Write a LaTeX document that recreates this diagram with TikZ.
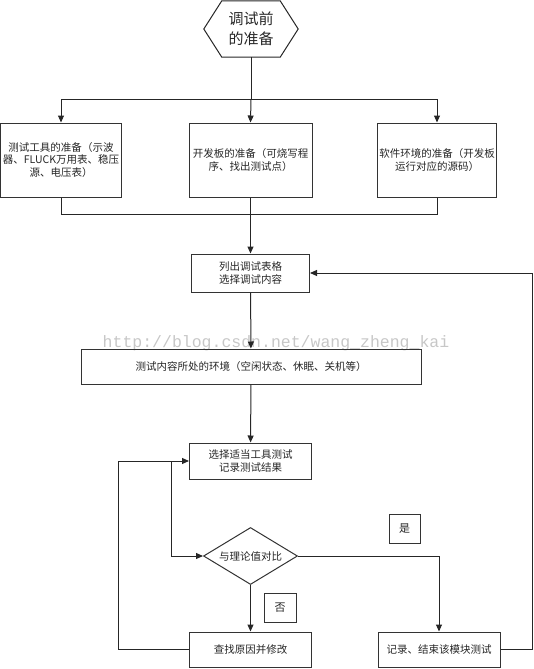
\documentclass[tikz,border=0pt]{standalone}
\usepackage{fontspec}
\setmainfont{Noto Sans CJK SC}
\newfontfamily\markfont{Liberation Mono}
\usepackage{tikz}
\usetikzlibrary{arrows.meta, shapes.geometric}

\begin{document}
\begin{tikzpicture}[
  x=1pt, y=-1pt,
  font=\fontsize{10.5}{12.5}\selectfont,
  >={Triangle[length=7pt, width=6pt]},
  box/.style={
    draw=black!80, line width=1pt, align=center, inner sep=2pt,
    text=black!85
  },
  prep/.style={box, minimum width=120pt, minimum height=74pt},
  stepbox/.style={box, minimum width=122pt, minimum height=36pt},
  tag/.style={box, minimum width=31pt, minimum height=29pt, font=\fontsize{11}{13}\selectfont},
  check/.style={box, diamond, aspect=1.65, inner sep=0pt,
    minimum width=94pt, minimum height=57pt},
  line/.style={line width=1pt, draw=black!85},
  arr/.style={line, ->},
  wmark/.style={font=\markfont\fontsize{16.5}{18}\selectfont, text=black!22}
]
  \useasboundingbox (0,0) rectangle (534,669);

  % watermark
  \node[wmark] (wm) at (276,343) {http://blog.csdn.net/wang\_zheng\_kai};

  % start
  \node[text=black!85, font=\fontsize{15}{20}\selectfont, align=center,
    minimum width=94pt, minimum height=56pt, inner sep=0pt]
    (start) at (251,29) {调试前\\的准备};
  \draw[line] (start.west) -- ([xshift=18pt]start.north west)
    -- ([xshift=-18pt]start.north east) -- (start.east)
    -- ([xshift=-18pt]start.south east) -- ([xshift=18pt]start.south west)
    -- cycle;

  % preparation
  \node[prep] (tools) at (61,160) {测试工具的准备（示波\\器、FLUCK万用表、稳压\\源、电压表）};
  \node[prep, minimum width=123pt] (board) at (250.5,160) {开发板的准备（可烧写程\\序、找出测试点）};
  \node[prep, minimum width=119pt] (soft) at (437,160) {软件环境的准备（开发板\\运行对应的源码）};

  % test loop
  \node[stepbox, minimum width=118pt, minimum height=38pt] (list) at (250.5,273) {列出调试表格\\选择调试内容};
  \node[box, minimum width=340pt, minimum height=35pt] (env) at (251,366.5)
    {测试内容所处的环境（空闲状态、休眠、关机等）};
  \node[stepbox] (select) at (250.5,461) {选择适当工具测试\\记录测试结果};
  \node[check] (cmp) at (250.5,556) {与理论值对比};
  \node[stepbox, minimum height=35pt] (fix) at (250.5,649.5) {查找原因并修改};
  \node[stepbox, minimum height=35pt] (done) at (439,649.5) {记录、结束该模块测试};
  \node[tag] (yes) at (404.5,528.5) {是};
  \node[tag, minimum width=32pt] (no) at (280,607.5) {否};

  \coordinate (bus) at (251,99);
  \coordinate (jn) at (171,461);

  \draw[line] (start.south) -- (bus);
  \draw[arr] (bus) -| (tools.north);
  \draw[arr] (bus) -- (board.north);
  \draw[arr] (bus) -| (soft.north);
  \draw[line] (tools.south) -- ++(0,17) -| (soft.south);
  \draw[arr] (board.south) -- (list.north);
  \draw[arr] (list) -- (env);
  \draw[arr] (env) -- (select);
  \draw[arr] (fix.west) -- ++(-71,0) |- (select.west);
  \draw[arr] (jn) |- (cmp.west);
  \draw[arr] (cmp) -- (fix);
  \draw[arr] (cmp.east) -| (done.north);
  \draw[arr] (done.east) -- ++(32,0) |- (list.east);
\end{tikzpicture}
\end{document}
